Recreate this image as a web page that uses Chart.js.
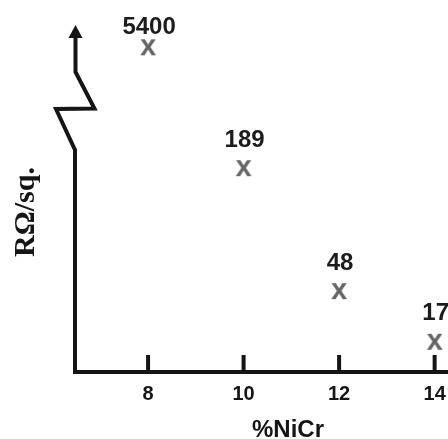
<!DOCTYPE html>
<html>
<head>
<meta charset="utf-8">
<title>Sheet resistance vs NiCr content</title>
<script src="https://cdn.jsdelivr.net/npm/chart.js@4"></script>
<style>
  html, body { margin: 0; padding: 0; background: #fff; }
  canvas { display: block; }
</style>
</head>
<body>
<canvas id="resChart" width="448" height="439"></canvas>
<script>
// NiCr content (%) and sheet resistance (ohm/sq)
const nicrPercent = [8, 10, 12, 14];
const sheetResistance = [5400, 189, 48, 17];
const xTickValues = [8, 10, 12, 14];
// anything above this goes on the part of the axis above the break
const axisBreak = 1000;

const INK = '#151515';
const MARK = '#656565';
const SANS = '"Liberation Sans", Arial, Helvetica, sans-serif';
const SERIF = '"Liberation Serif", "Times New Roman", serif';

// square-root y scale for the lower part of the axis
class SqrtScale extends Chart.LinearScale {
    getPixelForValue(value) {
        const lo = Math.sqrt(this.min), hi = Math.sqrt(this.max);
        return this.getPixelForDecimal((Math.sqrt(value) - lo) / (hi - lo));
    }
    getValueForPixel(pixel) {
        const lo = Math.sqrt(this.min), hi = Math.sqrt(this.max);
        const s = lo + this.getDecimalForPixel(pixel) * (hi - lo);
        return s * s;
    }
}
SqrtScale.id = 'sqrt';
SqrtScale.defaults = {};
Chart.register(SqrtScale);

// the marker is a bold grey letter "x"
function letterMark() {
    var c = document.createElement('canvas');
    c.width = 24;
    c.height = 24;
    var g = c.getContext('2d');
    g.fillStyle = MARK;
    g.font = 'bold 29px ' + SANS;
    g.textAlign = 'center';
    g.textBaseline = 'alphabetic';
    g.fillText('x', 12, 19.5);
    return c;
}

// axis lines, break zigzag, arrow head and inward ticks
var axesPlugin = {
    id: 'brokenAxes',
    beforeDatasetsDraw: function(chart) {
        var ctx = chart.ctx;
        var a = chart.chartArea;
        var L = a.left, B = a.bottom;
        ctx.save();
        ctx.strokeStyle = INK;
        ctx.fillStyle = INK;
        ctx.lineWidth = 4;
        ctx.lineJoin = 'miter';
        ctx.lineCap = 'butt';

        // x axis
        ctx.beginPath();
        ctx.moveTo(L - 2, B);
        ctx.lineTo(chart.width, B);
        ctx.stroke();

        // y axis with the break
        ctx.beginPath();
        ctx.moveTo(L, B + 2);
        ctx.lineTo(L, 150);
        ctx.lineTo(L - 19, 109);
        ctx.lineTo(L + 19.5, 108.5);
        ctx.lineTo(L + 0.5, 72);
        ctx.lineTo(L + 0.5, 36);
        ctx.stroke();

        ctx.beginPath();
        ctx.moveTo(L + 0.5, a.top);
        ctx.lineTo(L + 7.5, a.top + 13);
        ctx.lineTo(L - 6.5, a.top + 13);
        ctx.closePath();
        ctx.fill();

        // tick marks pointing up into the plot
        var xs = chart.scales.x;
        xs.ticks.forEach(function(t) {
            var px = xs.getPixelForValue(t.value);
            ctx.beginPath();
            ctx.moveTo(px, B);
            ctx.lineTo(px, B - 17);
            ctx.stroke();
        });

        // axis titles
        ctx.font = 'bold 24px ' + SANS;
        ctx.textAlign = 'center';
        ctx.textBaseline = 'alphabetic';
        ctx.fillText('%NiCr', 288, 437);

        ctx.translate(26, 212);
        ctx.rotate(-Math.PI / 2);
        ctx.font = 'bold 30px ' + SERIF;
        ctx.textBaseline = 'middle';
        ctx.fillText('R\u03A9/sq.', 0, 0);
        ctx.restore();
    },
    afterDatasetsDraw: function(chart) {
        // value written above each marker
        var ctx = chart.ctx;
        ctx.save();
        ctx.font = 'bold 24px ' + SANS;
        ctx.fillStyle = '#1c1c1c';
        ctx.textAlign = 'center';
        ctx.textBaseline = 'middle';
        chart.data.datasets.forEach(function(ds, di) {
            var meta = chart.getDatasetMeta(di);
            var lift = meta.yAxisID === 'yTop' ? 20 : 28;
            meta.data.forEach(function(el, i) {
                ctx.fillText(String(ds.data[i].y), el.x + 1, el.y - lift);
            });
        });
        ctx.restore();
    }
};

document.addEventListener("DOMContentLoaded", function() {
    var mark = letterMark();
    var points = nicrPercent.map(function(x, i) {
        return { x: x, y: sheetResistance[i] };
    });

    var ctx = document.getElementById('resChart').getContext('2d');
    var resChart = new Chart(ctx, {
        type: 'scatter',
        data: {
            datasets: [
                {
                    data: points.filter(function(p) { return p.y <= axisBreak; }),
                    yAxisID: 'y',
                    pointStyle: mark,
                    clip: false
                },
                {
                    data: points.filter(function(p) { return p.y > axisBreak; }),
                    yAxisID: 'yTop',
                    pointStyle: mark,
                    clip: false
                }
            ]
        },
        options: {
            responsive: false,
            animation: false,
            layout: {
                autoPadding: false,
                padding: { top: 25, left: 75, right: 0, bottom: 23 }
            },
            plugins: {
                legend: { display: false },
                tooltip: { enabled: false }
            },
            scales: {
                x: {
                    type: 'linear',
                    min: 6.47,
                    max: 14.28,
                    afterBuildTicks: function(scale) {
                        scale.ticks = xTickValues.map(function(v) { return { value: v }; });
                    },
                    // labels stay inside the canvas, no extra side padding needed
                    afterFit: function(scale) {
                        scale.paddingLeft = 0;
                        scale.paddingRight = 0;
                    },
                    grid: { display: false, drawTicks: false },
                    border: { display: false },
                    ticks: {
                        padding: 10,
                        color: INK,
                        font: { family: SANS, size: 20, weight: 'bold' }
                    }
                },
                y: {
                    type: 'sqrt',
                    display: false,
                    min: 6,
                    max: 470
                },
                yTop: {
                    type: 'linear',
                    display: false,
                    min: 0,
                    max: 5770
                }
            }
        },
        plugins: [axesPlugin]
    });
});
</script>
</body>
</html>
